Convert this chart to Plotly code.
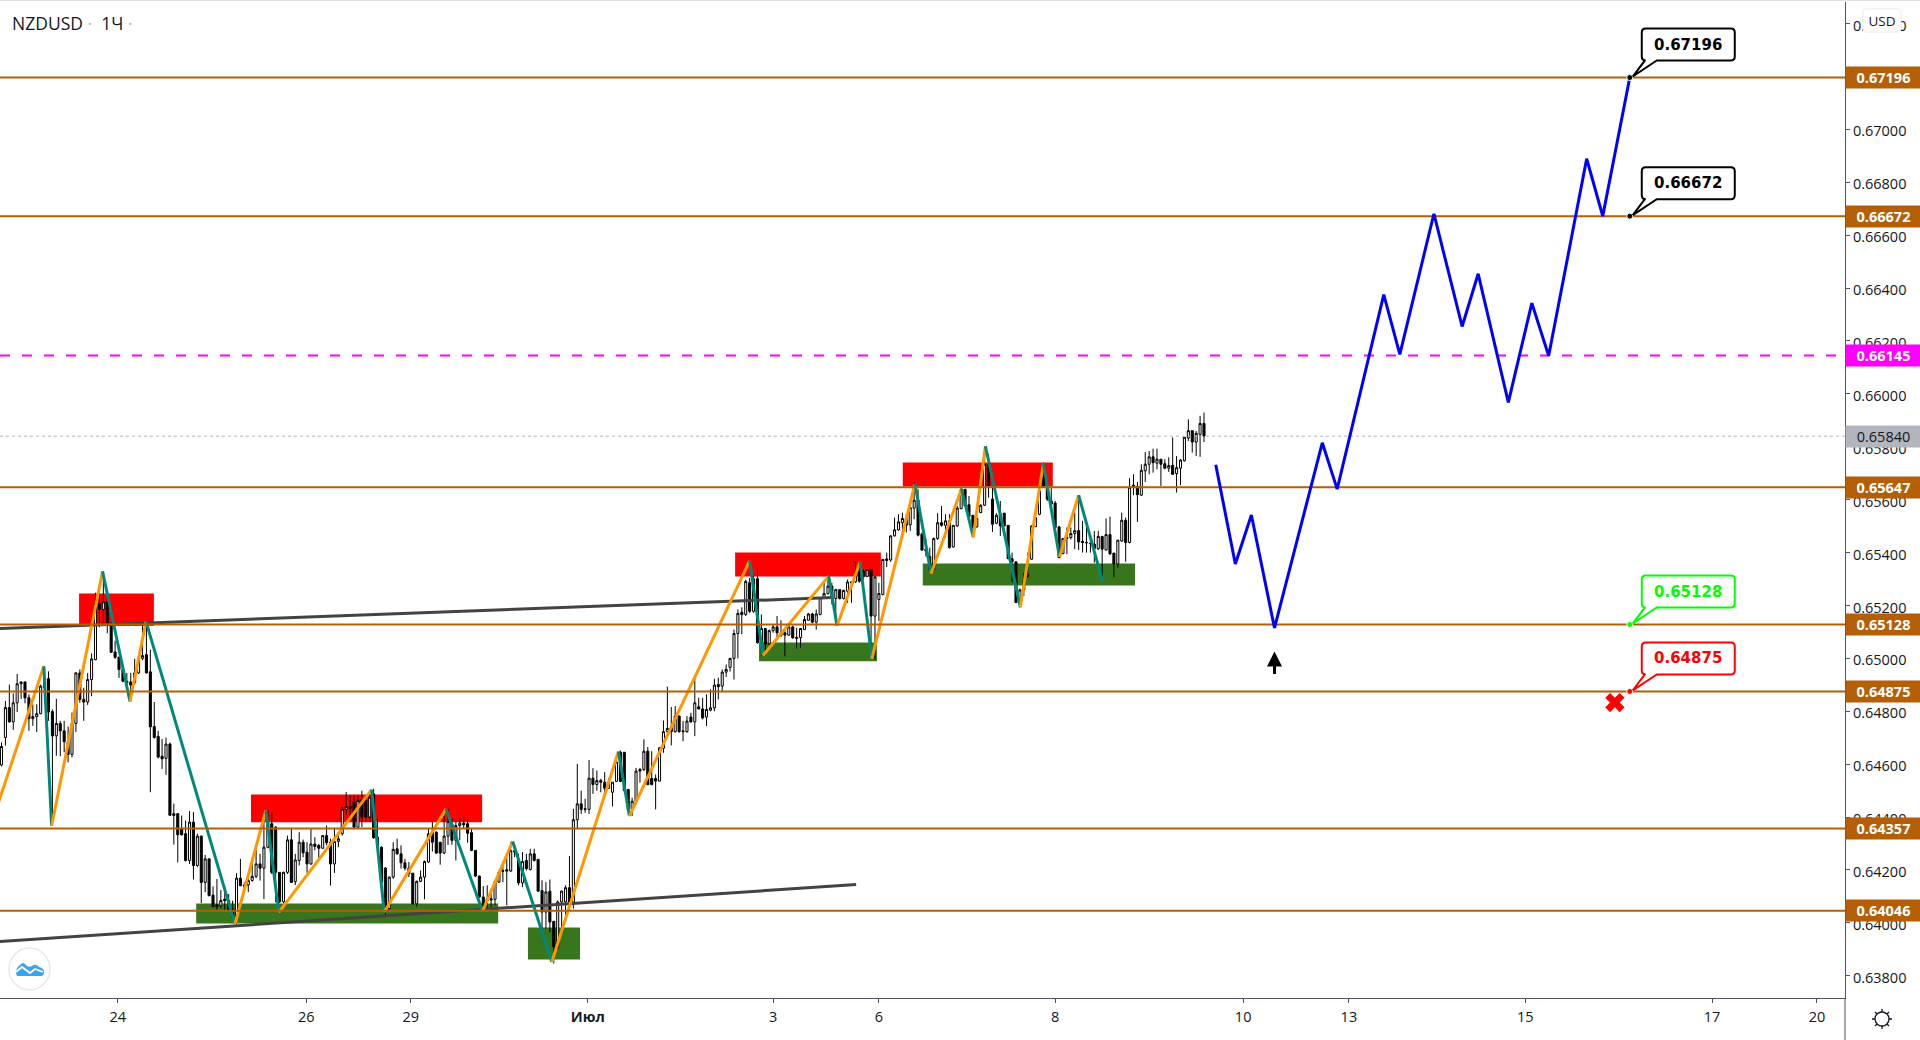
import plotly.graph_objects as go

# hourly bars
opens = [
    .64597,.64701,.64814,.6476,.64832,.64904,.64911,.64851,.64772,.6478,
    .64791,.64923,.64923,.64799,.64707,.64754,.64726,.64685,.64637,.64754,
    .64945,.64845,.64835,.6492,.64995,.65208,.65185,.65214,.65133,.65024,
    .65005,.64958,.64914,.64911,.64908,.64945,.65,.65014,.64949,.64742,
    .64705,.6463,.64622,.64676,.64413,.64413,.64356,.64337,.64236,.64381,
    .64217,.64328,.64153,.64242,.64105,.64068,.64065,.6409,.64084,.64052,
    .64025,.64169,.64143,.64143,.6416,.64176,.64223,.64207,.64286,.64375,
    .64362,.64191,.6408,.64191,.64314,.64156,.64236,.64305,.64267,.64223,
    .64298,.64293,.64282,.6433,.64305,.64223,.64308,.64337,.64429,.6444,
    .64456,.64362,.64465,.64463,.644,.64488,.64324,.64286,.64207,.64054,
    .64173,.6428,.64261,.64227,.64207,.64188,.64072,.64157,.64173,.6423,
    .64343,.64343,.64305,.64264,.64328,.64375,.64312,.64368,.64377,.64375,
    .64341,.64274,.64177,.64098,.64083,.64086,.64089,.64154,.64198,.64201,
    .64196,.64273,.64236,.64151,.64236,.64202,.64261,.6424,.64122,.64041,
    .6412,.64006,.63905,.64079,.64079,.64133,.64079,.6439,.6445,.64429,
    .64429,.64547,.64523,.64538,.64532,.64509,.64494,.64535,.64645,.64645,
    .64504,.6443,.6446,.6458,.6458,.64649,.64546,.64546,.64536,.6466,
    .64723,.64738,.64723,.64782,.64726,.64723,.64778,.6476,.64817,.64809,
    .64778,.64804,.64813,.64901,.64895,.64948,.64966,.65,.65094,.65174,
    .65166,.65286,.65178,.65301,.65061,.65113,.65055,.65105,.65119,.65086,
    .65097,.65088,.65119,.65079,.65078,.65109,.65144,.65168,.65137,.65166,
    .65229,.65245,.65273,.65226,.6526,.65226,.65254,.65289,.65289,.6533,
    .6533,.6531,.65336,.6516,.65223,.65241,.65376,.65372,.65463,.65486,
    .65513,.65529,.65505,.65568,.65598,.6547,.65413,.65385,.65337,.65453,
    .65513,.65503,.6552,.65421,.65501,.65566,.65639,.65581,.65541,.65497,
    .65551,.65579,.65734,.65602,.65511,.65545,.65549,.65503,.65377,.65365,
    .65211,.65259,.65309,.65375,.65498,.65545,.65734,.65652,.65595,.65587,
    .65497,.65396,.65457,.65457,.65472,.65483,.65442,.65438,.65435,.65432,
    .65415,.65461,.6541,.65468,.65398,.65357,.65444,.65522,.65438,.65655,
    .6565,.65617,.65709,.65734,.65762,.65738,.65753,.65736,.65719,.6573,
    .65699,.65719,.65747,.65833,.65861,.65818,.65847,.65888,
]
highs = [
    .64682,.64839,.64901,.64868,.64941,.64911,.64911,.64864,.64826,.64826,
    .64901,.6497,.64951,.64807,.64847,.64764,.64764,.64742,.64795,.64948,
    .64958,.64889,.64945,.65019,.65248,.65246,.65329,.65233,.65133,.65067,
    .65005,.6496,.64945,.64945,.64998,.65004,.65123,.65133,.65033,.64835,
    .64726,.64695,.64701,.64682,.64451,.64413,.64406,.64387,.64423,.64419,
    .64337,.6433,.64257,.64242,.64138,.64166,.64124,.64135,.64109,.64084,
    .64188,.64242,.64153,.64179,.64229,.6428,.64261,.64381,.64425,.64419,
    .64365,.64191,.64194,.6433,.64356,.64261,.64343,.64315,.64305,.64356,
    .64324,.64299,.6433,.64368,.64318,.64356,.64343,.64438,.64495,.64482,
    .64482,.64482,.645,.64469,.645,.64507,.64394,.64289,.64211,.64176,
    .64305,.64318,.64293,.64242,.6423,.64188,.6416,.64198,.64236,.64356,
    .64381,.64346,.64305,.64404,.64431,.64394,.64383,.64396,.644,.64394,
    .64356,.64274,.64179,.64139,.64142,.64129,.6416,.64198,.6423,.64255,
    .64305,.64293,.64261,.64268,.64261,.6428,.6428,.6424,.64161,.64154,
    .64164,.64006,.64085,.64123,.64142,.64253,.64431,.64601,.645,.64469,
    .64616,.64585,.64576,.64545,.6457,.64547,.64532,.6462,.64652,.64645,
    .64507,.64473,.64586,.64586,.64694,.64665,.64649,.64561,.64665,.64765,
    .64893,.64816,.6482,.64784,.64763,.64782,.64794,.64927,.64851,.64851,
    .64864,.64883,.64923,.64927,.64958,.64977,.65,.65109,.65185,.65193,
    .65297,.65304,.65313,.65342,.65166,.65113,.65109,.65128,.6516,.65144,
    .65109,.65128,.65124,.65115,.65115,.6516,.65172,.65172,.65185,.65231,
    .65286,.65311,.65286,.65263,.6526,.6526,.65298,.65292,.65367,.65367,
    .65336,.65338,.65338,.65311,.65286,.65376,.654,.65466,.65532,.65545,
    .65551,.65545,.65576,.65665,.65639,.65476,.65453,.65419,.65457,.65549,
    .65576,.65545,.65545,.65503,.65576,.65646,.65639,.65614,.65541,.65576,
    .65583,.65803,.65772,.65652,.65549,.65595,.65549,.65503,.654,.65365,
    .65264,.65324,.654,.65503,.65532,.65633,.6574,.65665,.65646,.65595,
    .65501,.65453,.65495,.65495,.65551,.65617,.6552,.65507,.65444,.65482,
    .65482,.65463,.65529,.65536,.65398,.65447,.65551,.65532,.65681,.65696,
    .65667,.65734,.6578,.65784,.65793,.65793,.65753,.65753,.6576,.65835,
    .65765,.65753,.65836,.65904,.65861,.6586,.65917,.65929,
]
lows = [
    .64592,.6467,.64757,.6473,.64797,.64847,.6483,.64726,.64745,.64722,
    .64789,.64857,.64764,.64369,.64632,.6463,.64645,.64607,.64626,.64722,
    .64832,.64764,.64824,.64857,.64993,.65118,.65133,.65095,.65023,.64998,
    .64926,.6491,.64895,.64839,.64901,.64941,.64993,.64943,.64494,.64697,
    .64622,.64582,.6456,.64404,.64296,.64229,.6433,.64232,.64223,.64164,
    .64211,.64075,.64116,.641,.64059,.6405,.64055,.6405,.64046,.64017,
    .63987,.64138,.64122,.64116,.64156,.64169,.6416,.6409,.64282,.64185,
    .64078,.64075,.64075,.64185,.64151,.64143,.64217,.64248,.64189,.64219,
    .64274,.64242,.6428,.64293,.64141,.64189,.64286,.6433,.64409,.64406,
    .64358,.64358,.64362,.64381,.64381,.64318,.6428,.64135,.64022,.64051,
    .64167,.64258,.64205,.64198,.64173,.64069,.64062,.64154,.64089,.64227,
    .6427,.64261,.6422,.64261,.64295,.64295,.64236,.64312,.64358,.64303,
    .64271,.64173,.64094,.64041,.64054,.6406,.64066,.64152,.64154,.64066,
    .64192,.64249,.64142,.64135,.64198,.64198,.64232,.64117,.63953,.63978,
    .63965,.63846,.63902,.63965,.6401,.64047,.64054,.64356,.64412,.64416,
    .64412,.64488,.645,.64494,.64482,.64507,.6444,.64532,.64532,.64498,
    .64425,.64404,.64458,.6453,.64574,.6452,.6452,.64429,.64535,.64643,
    .6471,.64671,.64719,.64719,.64687,.64719,.64757,.64706,.64807,.64769,
    .64744,.648,.648,.64845,.64876,.6493,.6495,.6492,.65,.65091,
    .6516,.65172,.65172,.65056,.65008,.65011,.65052,.65097,.65071,.65081,
    .65008,.65086,.65074,.65037,.65039,.65107,.65143,.65132,.65109,.65163,
    .65225,.65241,.65204,.65134,.65223,.65223,.6521,.6521,.65286,.65286,
    .65298,.65308,.65008,.64996,.65141,.65239,.65345,.65365,.65461,.65482,
    .65463,.65476,.65482,.65526,.65461,.65406,.65385,.6533,.6533,.65448,
    .65498,.65457,.65415,.65419,.65497,.65564,.65576,.65532,.65463,.65495,
    .65549,.65576,.65608,.65478,.65507,.65463,.65498,.65375,.65287,.6521,
    .65192,.65236,.65306,.65372,.65497,.65541,.65646,.65595,.65583,.65495,
    .65381,.65394,.65394,.6545,.65413,.6541,.654,.654,.654,.65362,
    .6541,.65293,.65408,.65392,.65306,.65343,.6544,.65365,.65435,.65617,
    .65516,.65614,.65667,.65696,.65702,.65715,.65652,.65715,.65705,.65696,
    .65627,.65655,.65744,.65822,.65778,.65765,.65762,.65818,
]
closes = [
    .64667,.64814,.6476,.64832,.64904,.64911,.64851,.64772,.6478,.64791,
    .64895,.64889,.64797,.64707,.64754,.64726,.64685,.64637,.64754,.64945,
    .64845,.64835,.6492,.64998,.65208,.65185,.65214,.65133,.65023,.65004,
    .64958,.64914,.64908,.64899,.64945,.65001,.65011,.64945,.64741,.64701,
    .64627,.6462,.64676,.64407,.64406,.64333,.64333,.64236,.64381,.64217,
    .64328,.64153,.64242,.64103,.64062,.64061,.64085,.64084,.6405,.64021,
    .64169,.64141,.64138,.6416,.64176,.64223,.64207,.64286,.64381,.64191,
    .64191,.6408,.64191,.64314,.64153,.64238,.64305,.64265,.64223,.64298,
    .64289,.64282,.6433,.64303,.64223,.64308,.64318,.64429,.6444,.64432,
    .64362,.64463,.644,.644,.64475,.64322,.64286,.64154,.64054,.64173,
    .64278,.64261,.64227,.64207,.64186,.64072,.64157,.64173,.64232,.64337,
    .64305,.64264,.64264,.64328,.64383,.64312,.64368,.64377,.64371,.64339,
    .64274,.64177,.64098,.64066,.6409,.64091,.64157,.64192,.64195,.64196,
    .64273,.64268,.64151,.64232,.64205,.64261,.64236,.6412,.64041,.64117,
    .64003,.63909,.64079,.6412,.64133,.64079,.6439,.6445,.64429,.64431,
    .64547,.64523,.64538,.64532,.64509,.64532,.64532,.64608,.64535,.645,
    .64429,.6446,.64574,.64574,.64649,.64523,.64523,.64536,.64662,.64723,
    .64735,.64723,.64782,.64723,.64723,.64763,.6476,.64832,.64809,.64775,
    .64807,.64813,.64899,.64893,.64948,.64958,.65,.65094,.6517,.65166,
    .65291,.65178,.65301,.65059,.65113,.65055,.65105,.65119,.65097,.65097,
    .65088,.65119,.65078,.65076,.65113,.65147,.65168,.65137,.65168,.65229,
    .65245,.65273,.65229,.6526,.65226,.65257,.65289,.65286,.65317,.65292,
    .65308,.65336,.6516,.65308,.65245,.65374,.6537,.65463,.65486,.65516,
    .65529,.65503,.6557,.65598,.65466,.6541,.65406,.65337,.65453,.65513,
    .65503,.6552,.65419,.65503,.65568,.65639,.65576,.65536,.65495,.65529,
    .65579,.65734,.65652,.65507,.65541,.65501,.65501,.65377,.65365,.65211,
    .65259,.65293,.65318,.65501,.65532,.65633,.65652,.65602,.65583,.65495,
    .65381,.65453,.65453,.65472,.65483,.6544,.65438,.65437,.65434,.65415,
    .65461,.65413,.65468,.65395,.65357,.65447,.65522,.65438,.65647,.6565,
    .65619,.65711,.65734,.65762,.6574,.65753,.65734,.65719,.65729,.65696,
    .65721,.6575,.65836,.65861,.65818,.65851,.65888,.65841,
]

# zigzag pivots (bar number, price)
zigzag_x = [-1, 10.8, 12.8, 25.8, 32.8, 36.9, 59.6, 67.5, 70.8, 94.5, 97.7, 113.5, 122.8, 130.5,
            140.5, 157.5, 160.3, 191, 194.4, 211.2, 213.3, 219.2, 222.2, 233.2, 237.3, 245.1,
            248.1, 251.2, 260.1, 266, 270.1, 275, 281.1]
zigzag_y = [.64445, .6497, .64367, .65329, .64837, .65139, .63995, .64425, .6404, .64504, .64041,
            .64431, .64044, .64308, .63852, .64648, .64404, .65369, .65011, .65311, .65122, .65365,
            .64998, .6566, .6532, .65641, .65458, .65802, .65194, .65737, .65383, .65617, .65292]

forecast_x = [310, 315, 319.1, 325, 337.2, 341, 352.9, 357, 365.7, 372.9, 377, 384.7, 390.7, 395,
              404.7, 408.8, 415.7]
forecast_y = [.65732, .65357, .65542, .65115, .65815, .6564, .66375, .66149, .66681, .66255, .66454,
              .65968, .66343, .66144, .66889, .66672, .67196]

trend_x = [[-0.4, 212.3], [-0.4, 218.2]]
trend_y = [[.65113, .6523], [.6393, .64145]]

# zones: x0, x1, y0, y1
red_zones = [(19.8, 38.9, .65122, .65245), (63.7, 122.7, .6438, .64485),
             (187.3, 224.5, .6531, .654), (230.1, 268.4, .6565, .65741)]
green_zones = [(49.7, 126.8, .63998, .64073), (134.4, 147.7, .63862, .63983),
               (193.4, 223.5, .64989, .6506), (235.2, 289.4, .65276, .65359)]

levels = [.67196, .66672, .65647, .65128, .64875, .64357, .64046]
pink_level = .66145
last_price = .6584

y_ticks = [.638, .64, .642, .644, .646, .648, .65, .652, .654, .656, .658, .66, .662, .664, .666, .668, .67, .672, .674]
x_ticks = [29.7, 77.8, 104.5, 149.7, 197, 224, 269, 317, 344, 389, 436.7, 463.5]
x_labels = ["24", "26", "29", "<b>Июл</b>", "3", "6", "8", "10", "13", "15", "17", "20"]

callout_x = 415.7
callouts = [(.67196, "#000000"), (.66672, "#000000"), (.65128, "#00ff00"), (.64875, "#ff0000")]

BROWN = "#b45f06"
TICK_FONT = dict(family="Open Sans", size=14.5, color="#131722")

fig = go.Figure()

fig.add_trace(go.Candlestick(
    x=list(range(len(opens))), open=opens, high=highs, low=lows, close=closes,
    increasing=dict(line=dict(color="#000000", width=1), fillcolor="#ffffff"),
    decreasing=dict(line=dict(color="#000000", width=1), fillcolor="#000000"),
    whiskerwidth=0, showlegend=False, hoverinfo="skip",
))

for tx, ty in zip(trend_x, trend_y):
    fig.add_trace(go.Scatter(x=tx, y=ty, mode="lines", line=dict(color="#434343", width=3), hoverinfo="skip"))

for i in range(len(zigzag_x) - 1):
    leg_color = "#ff9800" if zigzag_y[i + 1] > zigzag_y[i] else "#00897b"
    fig.add_trace(go.Scatter(x=zigzag_x[i:i + 2], y=zigzag_y[i:i + 2], mode="lines",
                             line=dict(color=leg_color, width=3), hoverinfo="skip"))

x_min, x_max = -0.383, 470.65

fig.add_trace(go.Scatter(x=[x_min, x_max], y=[last_price] * 2, mode="lines",
                         line=dict(color="#b2b5be", width=1, dash="dot"), hoverinfo="skip"))
for lvl in levels:
    fig.add_trace(go.Scatter(x=[x_min, x_max], y=[lvl] * 2, mode="lines",
                             line=dict(color=BROWN, width=2), hoverinfo="skip"))
fig.add_trace(go.Scatter(x=[x_min, x_max], y=[pink_level] * 2, mode="lines",
                         line=dict(color="#ff00ff", width=2, dash="10px 12px"), hoverinfo="skip"))

fig.add_trace(go.Scatter(x=forecast_x, y=forecast_y, mode="lines", line=dict(color="#0000ff", width=3), hoverinfo="skip"))

# target dots and the red cross
fig.add_trace(go.Scatter(x=[callout_x] * 4, y=[c[0] for c in callouts], mode="markers",
                         marker=dict(size=6, color=[c[1] for c in callouts], line=dict(color="#ffffff", width=1)),
                         hoverinfo="skip"))
fig.add_trace(go.Scatter(x=[411.9], y=[.64833], mode="markers",
                         marker=dict(symbol="x", size=17, color="#ff0000", line=dict(width=0)), hoverinfo="skip"))

shapes = []
for x0, x1, y0, y1 in red_zones:
    shapes.append(dict(type="rect", xref="x", yref="y", x0=x0, x1=x1, y0=y0, y1=y1,
                       fillcolor="#ff0000", line_width=0, layer="below"))
for x0, x1, y0, y1 in green_zones:
    shapes.append(dict(type="rect", xref="x", yref="y", x0=x0, x1=x1, y0=y0, y1=y1,
                       fillcolor="#38761d", line_width=0, layer="below"))

annotations = []

# callout bubble with its tail, drawn in pixels from the target point
bubble = ("M 3 1 L 27 17 L 101 17 Q 105 17 105 21 L 105 45 Q 105 49 101 49 "
          "L 16 49 Q 12 49 12 45 L 12 21 Q 12 17 16 17 L 15 17 Z")
for price, color in callouts:
    shapes.append(dict(type="path", xsizemode="pixel", ysizemode="pixel", xref="x", yref="y",
                       xanchor=callout_x, yanchor=price, path=bubble,
                       fillcolor="#ffffff", line=dict(color=color, width=2), layer="above"))
    annotations.append(dict(x=callout_x, y=price, xref="x", yref="y", xshift=58, yshift=33, showarrow=False,
                            text="<b>%.5f</b>" % price,
                            font=dict(family="DejaVu Sans", size=15, color=color)))

# price tags on the scale
for lvl in levels:
    annotations.append(dict(x=1, y=lvl, xref="paper", yref="y", xanchor="left", showarrow=False,
                            text="<b>%.5f</b>" % lvl, width=75, height=21, bgcolor=BROWN, borderpad=0,
                            font=dict(family="Open Sans", size=14.5, color="#ffffff")))
annotations.append(dict(x=1, y=pink_level, xref="paper", yref="y", xanchor="left", showarrow=False,
                        text="<b>%.5f</b>" % pink_level, width=75, height=21, bgcolor="#ff00ff", borderpad=0,
                        font=dict(family="Open Sans", size=14.5, color="#ffffff")))
annotations.append(dict(x=1, y=last_price, xref="paper", yref="y", xanchor="left", showarrow=False,
                        text="%.5f" % last_price, width=75, height=21, bgcolor="#b2b5be", borderpad=0,
                        font=TICK_FONT))

# title
annotations.append(dict(x=0, y=1, xref="paper", yref="paper", xanchor="left", yanchor="top", xshift=10, yshift=-7,
                        showarrow=False, align="left",
                        text="NZDUSD&nbsp;<span style='color:#b2b5be'>·</span>&nbsp;&nbsp;1Ч&nbsp;"
                             "<span style='color:#b2b5be'>·</span>",
                        font=dict(family="Open Sans", size=17.5, color="#131722")))

# black arrow under the wave low
annotations.append(dict(x=325, y=.65026, ax=325, ay=.64935, xref="x", yref="y", axref="x", ayref="y",
                        text="", showarrow=True, arrowhead=2, arrowsize=1, arrowwidth=3, arrowcolor="#000000"))

# USD button sits over the top scale label, gear and logo below
shapes.append(dict(type="path", xsizemode="pixel", ysizemode="pixel", xref="paper", yref="paper",
                   xanchor=1, yanchor=1,
                   path="M 21 -7 L 53 -7 Q 56 -7 56 -10 L 56 -27 Q 56 -30 53 -30 L 21 -30 Q 18 -30 18 -27 "
                        "L 18 -10 Q 18 -7 21 -7 Z",
                   fillcolor="#ffffff", line=dict(color="#e0e3eb", width=1), layer="above"))
annotations.append(dict(x=1, y=1, xref="paper", yref="paper", xanchor="center", yanchor="middle",
                        xshift=37, yshift=-18.5, showarrow=False, text="USD", width=36, height=21,
                        bgcolor="#ffffff", borderpad=0,
                        font=dict(family="Open Sans", size=13.5, color="#131722")))
shapes.append(dict(type="circle", xsizemode="pixel", ysizemode="pixel", xref="paper", yref="paper",
                   xanchor=1, yanchor=0, x0=30, x1=44, y0=-28, y1=-14,
                   fillcolor="#ffffff", line=dict(color="#131722", width=1.3), layer="above"))
shapes.append(dict(type="path", xsizemode="pixel", ysizemode="pixel", xref="paper", yref="paper",
                   xanchor=1, yanchor=0,
                   path="M 37 -14 L 37 -11 M 37 -28 L 37 -31 M 44 -21 L 47 -21 M 30 -21 L 27 -21 "
                        "M 42 -16 L 44 -14 M 32 -16 L 30 -14 M 42 -26 L 44 -28 M 32 -26 L 30 -28",
                   line=dict(color="#131722", width=1.3), layer="above"))
shapes.append(dict(type="line", xref="paper", yref="paper", x0=1, x1=1, y0=-0.045, y1=0,
                   line=dict(color="#50535e", width=1)))
shapes.append(dict(type="line", xref="paper", yref="paper", x0=0, x1=1.05, y0=1.002, y1=1.002,
                   line=dict(color="#e0e3eb", width=2)))
shapes.append(dict(type="circle", xsizemode="pixel", ysizemode="pixel", xref="paper", yref="paper",
                   xanchor=0, yanchor=0, x0=9, x1=50, y0=8, y1=50,
                   fillcolor="#ffffff", line=dict(color="#e8e8e8", width=1.5), layer="above"))
shapes.append(dict(type="path", xsizemode="pixel", ysizemode="pixel", xref="paper", yref="paper",
                   xanchor=0, yanchor=0,
                   path="M 18 22 L 41 22 Q 44 22 44 26 Q 44 30 39 31 Q 36 35 32 32 Q 28 30 26 33 "
                        "Q 23 37 20 33 Q 16 30 16 26 Q 16 22 18 22 Z",
                   fillcolor="#39a4f3", line_width=0, layer="above"))
shapes.append(dict(type="path", xsizemode="pixel", ysizemode="pixel", xref="paper", yref="paper",
                   xanchor=0, yanchor=0, path="M 16 26 L 22 31 L 30 25 L 35 29 L 43 26",
                   line=dict(color="#ffffff", width=1.8), layer="above"))

fig.update_layout(
    width=1920, height=1040,
    margin=dict(l=0, r=75, t=2, b=42),
    paper_bgcolor="#ffffff", plot_bgcolor="#ffffff",
    showlegend=False, boxgap=0.25, dragmode=False,
    shapes=shapes, annotations=annotations,
    xaxis=dict(range=[x_min, x_max], rangeslider=dict(visible=False), showgrid=False, zeroline=False,
               tickmode="array", tickvals=x_ticks, ticktext=x_labels, tickfont=TICK_FONT, ticklabelstandoff=2,
               ticks="outside", ticklen=4, tickcolor="#50535e", showline=True, linecolor="#50535e", linewidth=1),
    yaxis=dict(range=[.63716, .674816], side="right", showgrid=False, zeroline=False,
               tickmode="array", tickvals=y_ticks, tickformat=".5f", tickfont=TICK_FONT, ticklabelshift=2,
               ticks="outside", ticklen=4, tickcolor="#50535e", showline=True, linecolor="#50535e", linewidth=1),
)

fig.write_html("out.html", config=dict(displayModeBar=False),
               post_script="document.body.style.margin='0';document.body.style.overflow='hidden';")
